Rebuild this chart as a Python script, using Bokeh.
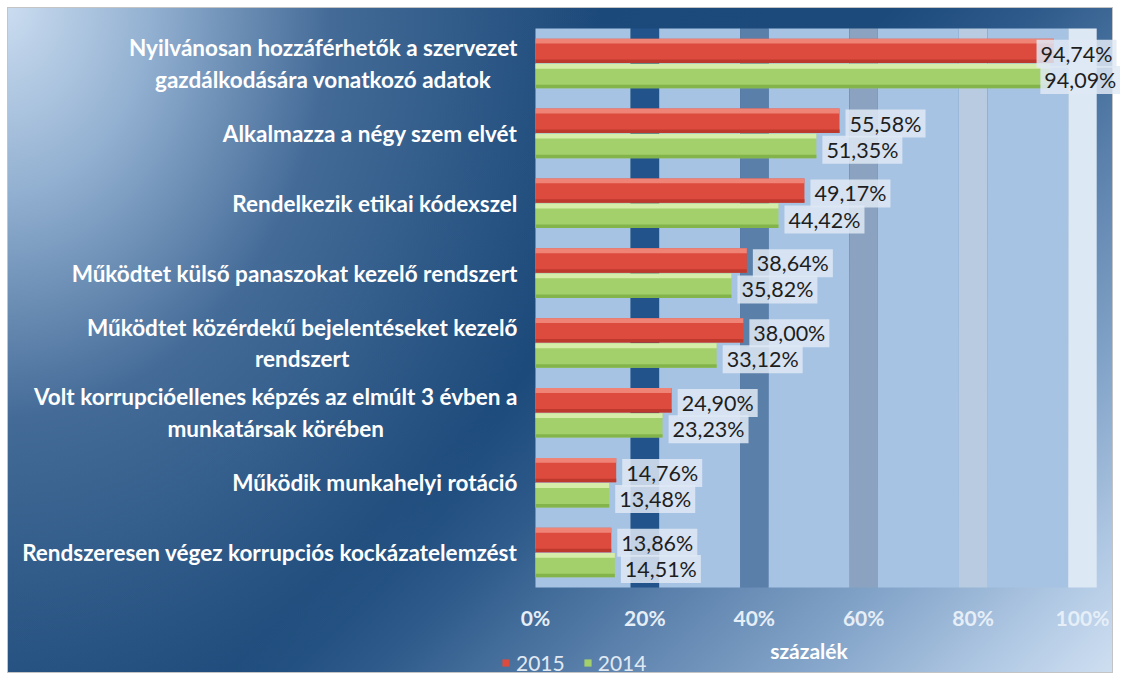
from bokeh.plotting import figure
from bokeh.models import Range1d, Legend, LegendItem, ColumnDataSource, Text
from bokeh.core.properties import value
from bokeh.embed import file_html
from bokeh.resources import INLINE

# ---- data ----
categories = [
    "Nyilvánosan hozzáférhetők a szervezet\ngazdálkodására vonatkozó adatok",
    "Alkalmazza a négy szem elvét",
    "Rendelkezik etikai kódexszel",
    "Működtet külső panaszokat kezelő rendszert",
    "Működtet közérdekű bejelentéseket kezelő\nrendszert",
    "Volt korrupcióellenes képzés az elmúlt 3 évben a\nmunkatársak körében",
    "Működik munkahelyi rotáció",
    "Rendszeresen végez korrupciós kockázatelemzést",
]
values_2015 = [94.74, 55.58, 49.17, 38.64, 38.00, 24.90, 14.76, 13.86]
values_2014 = [94.09, 51.35, 44.42, 35.82, 33.12, 23.23, 13.48, 14.51]
series_names = ["2015", "2014"]
tick_values = [0, 20, 40, 60, 80, 100]
tick_labels = ["0%", "20%", "40%", "60%", "80%", "100%"]
axis_title = "százalék"

# ---- layout / styles ----
W, H = 1120, 680
FONT = "Lato"
# frame covers the whole canvas; ranges chosen so the plot area sits where it should
X_RANGE = (-97.8, 106.95)
Y_RANGE = (-1.331, 8.401)
STRIPE_HW = 2.6
band_color = "#a6c3e4"
stripe_colors = ["#22538a", "#5a7fa9", "#8ba3c0", "#b9cbe0", "#dde8f5"]
red = dict(main="#dc4b3d", top="#f08a7c", bottom="#b9372b")
green = dict(main="#a3d06a", top="#dcefb0", bottom="#7fb049")
BAR_H = 0.35
OFF = 0.18
CAT_LABEL_X = -3.3
TICK_Y = -0.43
TITLE_Y = -0.90
LABEL_GAP = 1.1
LABEL_CAP = {"2015": 91.6, "2014": 92.3}


def fmt(v):
    return f"{v:.2f}".replace(".", ",") + "%"


n = len(categories)
ycen = [n - 0.5 - i for i in range(n)]

src = ColumnDataSource(dict(
    cat=categories,
    y=ycen,
    y15=[y + OFF for y in ycen],
    y14=[y - OFF for y in ycen],
    ly15=[y + 0.14 for y in ycen],
    ly14=[y - 0.235 for y in ycen],
    v15=values_2015,
    v14=values_2014,
    lab15=[fmt(v) for v in values_2015],
    lab14=[fmt(v) for v in values_2014],
    lx15=[min(v + LABEL_GAP, LABEL_CAP["2015"]) for v in values_2015],
    lx14=[min(v + LABEL_GAP, LABEL_CAP["2014"]) for v in values_2014],
))

p = figure(
    width=W, height=H,
    x_range=Range1d(*X_RANGE), y_range=Range1d(*Y_RANGE),
    x_axis_location=None, y_axis_location=None,
    output_backend="svg", toolbar_location=None,
    min_border=0,
)
p.border_fill_color = None
p.background_fill_color = None
p.outline_line_color = None
p.grid.visible = False
p.styles = {
    "background": (
        "radial-gradient(ellipse 600px 760px at 0px 0px, rgba(206,223,242,1) 0%, "
        "rgba(160,188,219,0.9) 25%, rgba(95,130,172,0.6) 55%, rgba(28,74,122,0) 100%), "
        "linear-gradient(135deg, #1b4878 0%, #1c4a7a 50%, #2d5a8a 58%, #5a80ab 70%, "
        "#88a8cc 83%, #b5cce6 93%, #d2e1f2 100%)"
    ),
    "box-shadow": "inset 0 0 0 7px #ffffff, inset 0 0 0 8px #c4c4c4",
}

# plot-area bands derived from the tick positions
inner = tick_values[1:]
band_left = [0] + [t + STRIPE_HW for t in inner[:-1]]
band_right = [t - STRIPE_HW for t in inner]
p.quad(left=band_left, right=band_right, bottom=0, top=n,
       fill_color=band_color, line_color=None)
p.quad(left=[t - STRIPE_HW for t in inner], right=[t + STRIPE_HW for t in inner],
       bottom=0, top=n, fill_color=stripe_colors, line_color=None)


# bars with simple 3D shading
def shaded(col, ycol, c):
    r = p.hbar(y=ycol, left=0, right=col, height=BAR_H, source=src,
               fill_color=c["main"], line_color=None)
    top_src = ColumnDataSource(dict(y=[y + BAR_H / 2 - 0.035 for y in src.data[ycol]],
                                    r=src.data[col]))
    bot_src = ColumnDataSource(dict(y=[y - BAR_H / 2 + 0.025 for y in src.data[ycol]],
                                    r=src.data[col]))
    p.hbar(y="y", left=0, right="r", height=0.07, source=top_src,
           fill_color=c["top"], line_color=None, fill_alpha=0.9)
    p.hbar(y="y", left=0, right="r", height=0.05, source=bot_src,
           fill_color=c["bottom"], line_color=None, fill_alpha=0.9)
    return r


r15 = shaded("v15", "y15", red)
r14 = shaded("v14", "y14", green)

# value labels
for lx, ly, lab in (("lx15", "ly15", "lab15"), ("lx14", "ly14", "lab14")):
    p.text(x=lx, y=ly, text=lab, source=src,
           text_font=value(FONT), text_font_size="21.5px", text_color="#1e1e1e",
           text_align="left", text_baseline="middle",
           background_fill_color="#dfe9f5", background_fill_alpha=0.85,
           padding=[4, 1])

# category labels (right edge fixed, lines centred)
cat_kw = dict(text_font=value(FONT), text_font_size="22.5px", text_font_style="bold",
              text_color="#ffffff", text_baseline="middle", text_line_height=1.18)
if "anchor" in Text.properties():
    cat_kw.update(anchor="center_right", text_align="center")
else:
    cat_kw.update(text_align="right")
p.text(x=CAT_LABEL_X, y="y", text="cat", source=src, **cat_kw)

# x tick labels and axis title placed through the x scale
p.text(x=tick_values, y=[TICK_Y] * len(tick_values), text=tick_labels,
       text_font=value(FONT), text_font_size="21px", text_font_style="bold",
       text_color="#e6eef7", text_align="center", text_baseline="middle")
p.text(x=[(tick_values[0] + tick_values[-1]) / 2], y=[TITLE_Y], text=[axis_title],
       text_font=value(FONT), text_font_size="21px", text_font_style="bold",
       text_color="#ffffff", text_align="center", text_baseline="middle")

legend = Legend(
    items=[LegendItem(label=series_names[0], renderers=[r15]),
           LegendItem(label=series_names[1], renderers=[r14])],
    orientation="horizontal", location=(501, 5),
    padding=0, margin=0, spacing=18, glyph_width=9, glyph_height=9, label_standoff=6,
    label_height=20,
    background_fill_alpha=0, border_line_color=None,
    label_text_font=FONT, label_text_font_size="21px", label_text_color="#e0e9f3",
)
p.add_layout(legend)

open("out.html", "w").write(file_html(p, INLINE))
